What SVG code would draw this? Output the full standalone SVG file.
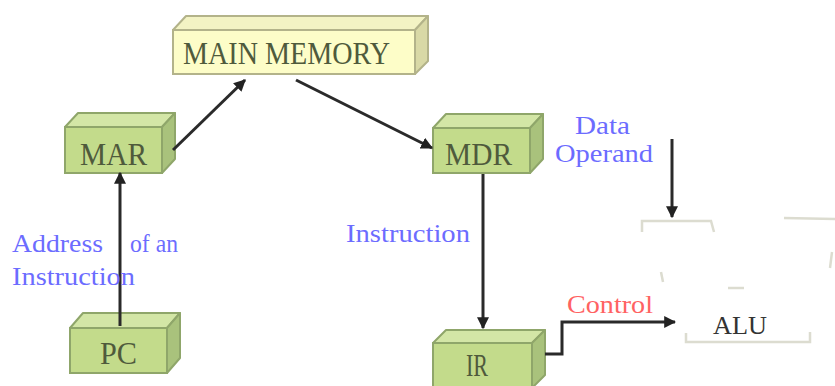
<svg xmlns="http://www.w3.org/2000/svg" width="835" height="386" viewBox="0 0 835 386">
  <defs>
    <marker id="arrow" viewBox="0 0 10 10" refX="9" refY="5" markerWidth="4" markerHeight="4" orient="auto" markerUnits="strokeWidth">
      <path d="M0,0 L10,5 L0,10 z" fill="#222"/>
    </marker>
    <style>
      .front-g { fill: #c3db8b; stroke: #8fa66a; stroke-width: 2; }
      .top-g { fill: #d3e6a6; stroke: #8fa66a; stroke-width: 2; stroke-linejoin: round; }
      .side-g { fill: #a9c27c; stroke: #8fa66a; stroke-width: 2; stroke-linejoin: round; }
      .front-y { fill: #fdfdc8; stroke: #b3b38a; stroke-width: 2; }
      .top-y { fill: #f3f3c4; stroke: #b3b38a; stroke-width: 2; stroke-linejoin: round; }
      .side-y { fill: #d9d9a6; stroke: #b3b38a; stroke-width: 2; stroke-linejoin: round; }
      .name { font-family: "Liberation Serif", "Times New Roman", serif; font-size: 31px; fill: #4f5a3c; }
      .label { font-family: "Liberation Serif", "Times New Roman", serif; font-size: 26px; fill: #6c6cff; }
      .ctrl { font-family: "Liberation Serif", "Times New Roman", serif; font-size: 26px; fill: #ff6262; }
      .wire { stroke: #2a2a2a; stroke-width: 3; fill: none; }
      .alu { stroke: #dcdcd0; stroke-width: 2.5; fill: none; }
    </style>
  </defs>

  <rect width="835" height="386" fill="#ffffff"/>

  <!-- main memory block -->
  <g id="main-memory">
    <polygon class="top-y" points="173,30 186,16 428,16 415,30"/>
    <polygon class="side-y" points="415,30 428,16 428,61 415,74"/>
    <rect class="front-y" x="173" y="30" width="242" height="44"/>
    <text class="name" x="183" y="64" textLength="207" lengthAdjust="spacingAndGlyphs">MAIN MEMORY</text>
  </g>

  <!-- registers -->
  <g id="mar">
    <polygon class="top-g" points="65,127 78,113 175,113 162,127"/>
    <polygon class="side-g" points="162,127 175,113 175,159 162,173"/>
    <rect class="front-g" x="65" y="127" width="97" height="46"/>
    <text class="name" x="80" y="165" textLength="67" lengthAdjust="spacingAndGlyphs">MAR</text>
  </g>

  <g id="mdr">
    <polygon class="top-g" points="433,128 446,114 543,114 530,128"/>
    <polygon class="side-g" points="530,128 543,114 543,159 530,173"/>
    <rect class="front-g" x="433" y="128" width="97" height="45"/>
    <text class="name" x="445" y="165" textLength="67" lengthAdjust="spacingAndGlyphs">MDR</text>
  </g>

  <g id="pc">
    <polygon class="top-g" points="70,328 83,313 180,313 167,328"/>
    <polygon class="side-g" points="167,328 180,313 180,358 167,373"/>
    <rect class="front-g" x="70" y="328" width="97" height="45"/>
    <text class="name" x="100" y="364" textLength="37" lengthAdjust="spacingAndGlyphs">PC</text>
  </g>

  <g id="ir">
    <polygon class="top-g" points="433,343 446,330 545,330 532,343"/>
    <polygon class="side-g" points="532,343 545,330 545,375 532,388"/>
    <rect class="front-g" x="433" y="343" width="99" height="46"/>
    <text class="name" x="466" y="376" font-size="28" textLength="22" lengthAdjust="spacingAndGlyphs">IR</text>
  </g>

  <!-- ALU outline -->
  <g id="alu">
    <path class="alu" d="M642,232 L642,221 L711,221 L714,232"/>
    <path class="alu" d="M784,218 L835,219"/>
    <path class="alu" d="M661,272 L663,282"/>
    <path class="alu" d="M832,252 L830,268"/>
    <path class="alu" d="M686,333 L686,342 L810,342 L810,332"/>
    <path class="alu" d="M728,288 L744,288"/>
    <text x="713" y="334" font-family="Liberation Serif, serif" font-size="25" fill="#333" textLength="54" lengthAdjust="spacingAndGlyphs">ALU</text>
  </g>

  <!-- connectors -->
  <g id="connectors">
    <line class="wire" x1="173" y1="150" x2="245" y2="80" marker-end="url(#arrow)"/>
    <line class="wire" x1="296" y1="80" x2="432" y2="148" marker-end="url(#arrow)"/>
    <line class="wire" x1="120" y1="326" x2="120" y2="173" marker-end="url(#arrow)"/>
    <line class="wire" x1="483" y1="174" x2="483" y2="328" marker-end="url(#arrow)"/>
    <polyline class="wire" points="545,354 562,354 562,322 675,322" marker-end="url(#arrow)"/>
    <line class="wire" x1="672" y1="139" x2="672" y2="217" marker-end="url(#arrow)"/>
  </g>

  <!-- labels -->
  <g id="labels">
    <text class="label" y="252"><tspan x="12" textLength="91" lengthAdjust="spacingAndGlyphs">Address</tspan><tspan x="130" textLength="48" lengthAdjust="spacingAndGlyphs">of an</tspan></text>
    <text class="label" x="12" y="285" textLength="123" lengthAdjust="spacingAndGlyphs">Instruction</text>
    <text class="label" x="346" y="242" textLength="124" lengthAdjust="spacingAndGlyphs">Instruction</text>
    <text class="label" x="575" y="134" textLength="55" lengthAdjust="spacingAndGlyphs">Data</text>
    <text class="label" x="555" y="162" textLength="98" lengthAdjust="spacingAndGlyphs">Operand</text>
    <text class="ctrl" x="567" y="313" textLength="86" lengthAdjust="spacingAndGlyphs">Control</text>
  </g>
</svg>
